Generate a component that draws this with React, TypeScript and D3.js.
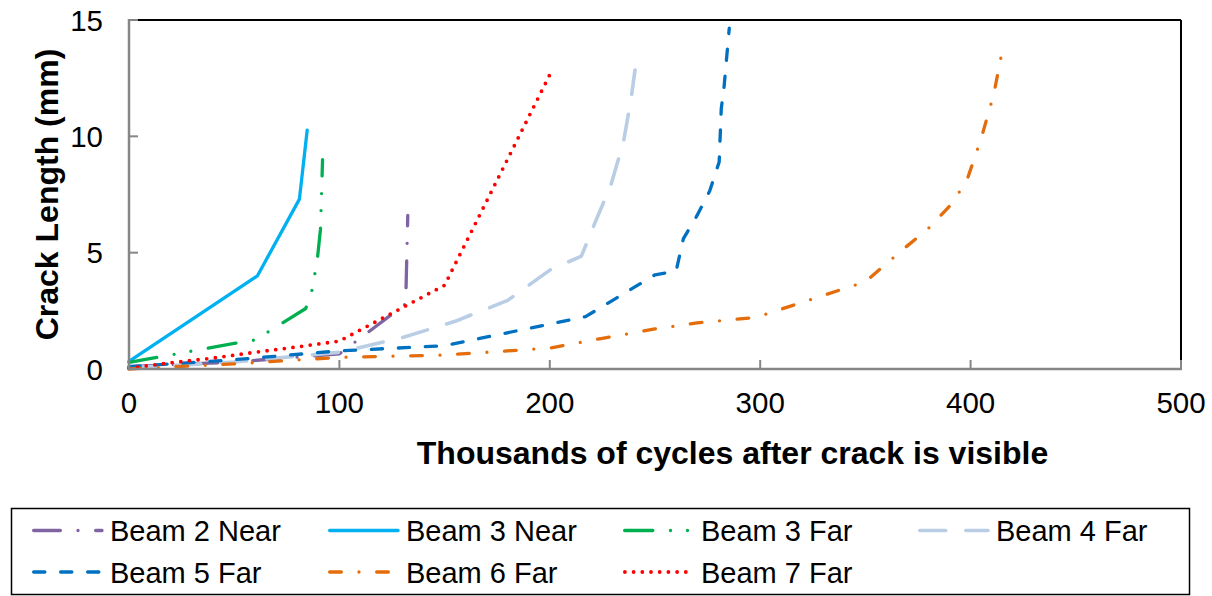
import React from 'react';
import * as d3 from 'd3';

// Crack length (mm) against thousands of cycles after the crack became visible
const beam2NearX = [0, 50, 100, 131.5, 132.5];
const beam2NearY = [0.1, 0.3, 0.65, 2.8, 6.6];

const beam3NearX = [0, 61, 81, 84.7];
const beam3NearY = [0.33, 4.0, 7.3, 10.27];

const beam3FarX = [0, 50, 60, 84, 87, 89.5, 91, 92];
const beam3FarY = [0.28, 1.1, 1.25, 2.6, 3.4, 4.7, 6.0, 9.0];

const beam4FarX = [0, 50, 100, 130, 155, 180, 200, 215, 222, 229, 235, 238.7, 240.5];
const beam4FarY = [0.05, 0.3, 0.72, 1.35, 2.05, 2.95, 4.25, 4.85, 6.4, 7.9, 9.75, 11.65, 12.85];

const beam5FarX = [0, 50, 100, 150, 217, 250, 260, 263.5, 270, 276, 280.5, 281.5, 282.8, 285.3];
const beam5FarY = [0.1, 0.4, 0.78, 1.0, 2.25, 4.05, 4.2, 5.6, 6.6, 7.65, 8.9, 11.2, 12.1, 14.65];

const beam6FarX = [0, 50, 100, 150, 200, 225, 250, 270, 298, 350, 368, 380, 390, 398, 405, 411, 415.2];
const beam6FarY = [0.0, 0.22, 0.5, 0.6, 0.9, 1.32, 1.72, 1.98, 2.22, 3.75, 5.15, 6.05, 7.0, 8.05, 9.9, 11.8, 13.75];

const beam7FarX = [0, 20, 40, 60, 80, 100, 150, 200];
const beam7FarY = [0.03, 0.27, 0.47, 0.72, 0.95, 1.2, 3.6, 12.65];

const seriesNames = ['Beam 2 Near', 'Beam 3 Near', 'Beam 3 Far', 'Beam 4 Far', 'Beam 5 Far', 'Beam 6 Far', 'Beam 7 Far'];
const seriesX = [beam2NearX, beam3NearX, beam3FarX, beam4FarX, beam5FarX, beam6FarX, beam7FarX];
const seriesY = [beam2NearY, beam3NearY, beam3FarY, beam4FarY, beam5FarY, beam6FarY, beam7FarY];

const xTickValues = [0, 100, 200, 300, 400, 500];
const yTickValues = [0, 5, 10, 15];

const xTitle = 'Thousands of cycles after crack is visible';
const yTitle = 'Crack Length (mm)';

// Line styles per series (round caps; zero-length dashes render as dots)
const lineStyles = [
  { color: '#8064A2', width: 3.3, dash: '26.7 17.65 0 17.65' },
  { color: '#00B0F0', width: 3.3, dash: 'none' },
  { color: '#00B050', width: 3.3, dash: '28.2 17.65 0 17 0 17.65' },
  { color: '#B9CDE5', width: 3.6, dash: '25.9 20.1' },
  { color: '#0070C0', width: 3.3, dash: '11.2 15.8' },
  { color: '#E46C0A', width: 3.3, dash: '11.7 17.65 0 17.65' },
  { color: '#FF0000', width: 3.8, dash: '0 8.7' },
];

const W = 1212;
const H = 596;
const plot = { left: 129, right: 1181, top: 20, bottom: 369 };

const FONT = 'Liberation Sans, Arial, sans-serif';

export default function App() {
  const x = d3.scaleLinear().domain([0, 500]).range([plot.left, plot.right]);
  const y = d3.scaleLinear().domain([0, 15]).range([plot.bottom, plot.top]);

  const line = d3
    .line<[number, number]>()
    .x((d) => x(d[0]))
    .y((d) => y(d[1]));

  const legendCols = [32, 328, 623, 918];
  const legendRows = [530.5, 572];
  const sampleLen = 70;

  return (
    <svg
      width={W}
      height={H}
      viewBox={`0 0 ${W} ${H}`}
      style={{ position: 'absolute', left: 0, top: 0, background: '#fff' }}
      fontFamily={FONT}
    >
      <rect x={0} y={0} width={W} height={H} fill="#fff" />

      {/* plot frame: black top/right edges */}
      <line x1={plot.left} x2={plot.right} y1={plot.top} y2={plot.top} stroke="#000" strokeWidth={2} />
      <line x1={plot.right} x2={plot.right} y1={plot.top} y2={plot.bottom} stroke="#000" strokeWidth={2} />

      {/* series */}
      {seriesNames.map((name, i) => {
        const pts = seriesX[i].map((v, k) => [v, seriesY[i][k]] as [number, number]);
        const st = lineStyles[i];
        return (
          <path
            key={name}
            d={line(pts) || ''}
            fill="none"
            stroke={st.color}
            strokeWidth={st.width}
            strokeDasharray={st.dash}
            strokeLinecap="round"
            strokeLinejoin="round"
          />
        );
      })}

      {/* axes */}
      <line x1={plot.left} x2={plot.left} y1={plot.top - 1} y2={plot.bottom + 1} stroke="#868686" strokeWidth={2.5} />
      <line x1={plot.left - 1} x2={plot.right + 1} y1={plot.bottom} y2={plot.bottom} stroke="#868686" strokeWidth={2.5} />

      {xTickValues.map((t) => (
        <g key={'xt' + t}>
          <line x1={x(t)} x2={x(t)} y1={plot.bottom} y2={plot.bottom - 9} stroke="#868686" strokeWidth={2} />
          <text x={x(t)} y={413} textAnchor="middle" fontSize={29.5} fill="#000">
            {t}
          </text>
        </g>
      ))}
      {yTickValues.map((t) => (
        <g key={'yt' + t}>
          <line x1={plot.left} x2={plot.left + 9} y1={y(t)} y2={y(t)} stroke="#868686" strokeWidth={2} />
          <text x={103} y={y(t) + 10.5} textAnchor="end" fontSize={29.5} fill="#000">
            {t}
          </text>
        </g>
      ))}

      <text x={732.5} y={464} textAnchor="middle" fontSize={32} fontWeight="bold" fill="#000">
        {xTitle}
      </text>
      <text
        transform={`translate(58, ${(plot.top + plot.bottom) / 2}) rotate(-90)`}
        textAnchor="middle"
        fontSize={32}
        fontWeight="bold"
        fill="#000"
      >
        {yTitle}
      </text>

      {/* legend */}
      <rect x={11.5} y={508.5} width={1178} height={86} fill="none" stroke="#000" strokeWidth={1.5} />
      {seriesNames.map((name, i) => {
        const col = i % 4;
        const row = Math.floor(i / 4);
        const st = lineStyles[i];
        const x0 = legendCols[col] + st.width / 2;
        const ly = legendRows[row];
        return (
          <g key={'lg' + name}>
            <line
              x1={x0}
              x2={x0 + sampleLen - st.width / 2}
              y1={ly}
              y2={ly}
              stroke={st.color}
              strokeWidth={st.width}
              strokeDasharray={st.dash}
              strokeLinecap="round"
            />
            <text x={legendCols[col] + 78} y={ly + 10.5} fontSize={29} fill="#000">
              {name}
            </text>
          </g>
        );
      })}
    </svg>
  );
}
